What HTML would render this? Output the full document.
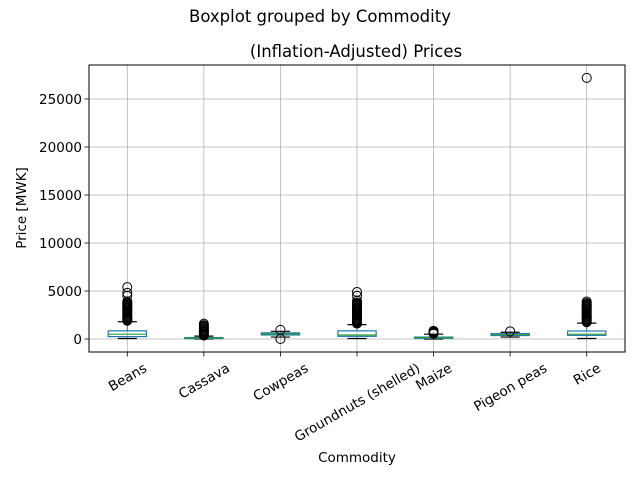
<!DOCTYPE html>
<html><head><meta charset="utf-8"><style>
body{margin:0;background:#fff;}
svg{display:block;font-family:"DejaVu Sans","Liberation Sans",sans-serif;}
</style></head><body>
<svg id="chart" width="640" height="480" viewBox="0 0 640 480">
<text x="320" y="22" text-anchor="middle" font-size="16.5">Boxplot grouped by Commodity</text>
<text x="356" y="57" text-anchor="middle" font-size="16.5">(Inflation-Adjusted) Prices</text>
<g id="grid"></g><g id="marks"></g><g id="axes"></g>
<text x="357" y="462" text-anchor="middle" font-size="13.5">Commodity</text>
<text transform="translate(26,208) rotate(-90)" text-anchor="middle" font-size="13.5">Price [MWK]</text>
</svg>
<script>
const categories=["Beans","Cassava","Cowpeas","Groundnuts (shelled)","Maize","Pigeon peas","Rice"];
const q1=[250,40,420,280,70,360,380];
const medians=[500,90,520,420,140,450,500];
const q3=[850,150,640,850,200,560,830];
const whiskerLow=[50,0,200,50,0,200,50];
const whiskerHigh=[1800,300,800,1500,500,700,1650];
const outliers=[
 [1900,2000,2100,2200,2300,2400,2500,2600,2700,2800,2900,3000,3100,3200,3300,3400,3500,3600,3700,3800,3900,4500,4800,5400],
 [350,450,550,650,750,850,950,1050,1150,1250,1350,1450,1600],
 [0,950],
 [1600,1700,1800,1900,2000,2100,2200,2300,2400,2500,2600,2700,2800,2900,3000,3100,3200,3300,3400,3500,3600,3700,3800,4000,4500,4900],
 [550,600,650,700,750,800,850],
 [800],
 [1750,1850,1950,2050,2150,2250,2350,2450,2550,2650,2750,2850,2950,3050,3150,3250,3350,3450,3550,3650,3750,3900,27200]
];
const yTicks=[0,5000,10000,15000,20000,25000];
const L=89,R=625,T=65,B=352,yMin=-1354,yMax=28540;
const y=v=>B-(v-yMin)/(yMax-yMin)*(B-T);
const step=(R-L)/categories.length;
const x=i=>L+step*(i+0.5);
const NS="http://www.w3.org/2000/svg";
function mk(p,tag,attrs){const e=document.createElementNS(NS,tag);for(const k in attrs)e.setAttribute(k,attrs[k]);p.appendChild(e);return e;}
const grid=document.getElementById('grid'),marks=document.getElementById('marks'),axes=document.getElementById('axes');
yTicks.forEach(t=>{
 const g=mk(grid,'line',{x1:L,x2:R,y1:y(t),y2:y(t),stroke:'#b0b0b0','stroke-width':0.8});
 
 
 const tk=mk(axes,'line',{x1:L-4.5,x2:L,y1:y(t),y2:y(t),stroke:'#000','stroke-width':0.8});
 
 
 const lb=mk(axes,'text',{x:L-7,y:y(t)+5,'text-anchor':'end','font-size':13.5});
 lb.textContent=t;
 
 
});
categories.forEach((c,i)=>{
 const cx=x(i);
 const g=mk(grid,'line',{x1:cx,x2:cx,y1:T,y2:B,stroke:'#b0b0b0','stroke-width':0.8});
 
 
 const tk=mk(axes,'line',{x1:cx,x2:cx,y1:B,y2:B+4.5,stroke:'#000','stroke-width':0.8});
 
 
 const lb=mk(axes,'text',{'text-anchor':'middle','font-size':13.5});
 lb.textContent=c;
 
 
 const w=lb.getComputedTextLength(), h=15;
 const cy=B+8+(w*0.5+h*0.866)/2;
 lb.setAttribute('transform',`translate(${cx},${cy}) rotate(-30) translate(0,${h*0.33})`);
 const hw=step*0.25,cw=step*0.125;
 const grp=mk(marks,'g',{});
 
 
 mk(grp,'line',{x1:cx,x2:cx,y1:y(q3[i]),y2:y(whiskerHigh[i]),stroke:'#1f77b4','stroke-width':1});
 mk(grp,'line',{x1:cx,x2:cx,y1:y(q1[i]),y2:y(whiskerLow[i]),stroke:'#1f77b4','stroke-width':1});
 mk(grp,'line',{x1:cx-cw,x2:cx+cw,y1:y(whiskerHigh[i]),y2:y(whiskerHigh[i]),stroke:'#000','stroke-width':1.2});
 mk(grp,'line',{x1:cx-cw,x2:cx+cw,y1:y(whiskerLow[i]),y2:y(whiskerLow[i]),stroke:'#000','stroke-width':1.2});
 mk(grp,'rect',{x:cx-hw,y:y(q3[i]),width:2*hw,height:Math.max(1,y(q1[i])-y(q3[i])),fill:'none',stroke:'#1f77b4','stroke-width':1.2});
 mk(grp,'line',{x1:cx-hw,x2:cx+hw,y1:y(medians[i]),y2:y(medians[i]),stroke:'#2ca02c','stroke-width':1.2});
 outliers[i].forEach(v=>{
  const o=mk(grp,'circle',{cx:cx,cy:y(v),r:4.5,fill:'none',stroke:'#000','stroke-width':1});
  
  
 });
});
const sp=mk(axes,'rect',{x:L,y:T,width:R-L,height:B-T,fill:'none',stroke:'#000','stroke-width':1});


</script>
</body></html>
